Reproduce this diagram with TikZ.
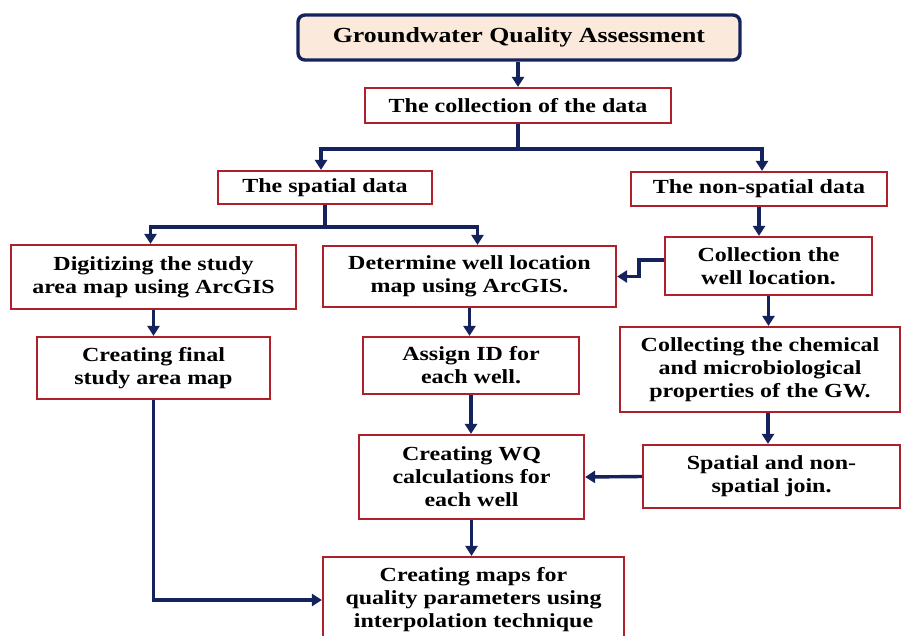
\documentclass[tikz,border=0pt]{standalone}
\usepackage{fontspec}
\setmainfont{Liberation Serif}[FakeStretch=1.2]
\usetikzlibrary{arrows.meta}
\definecolor{navy}{HTML}{15235C}
\definecolor{boxred}{HTML}{B0202A}
\definecolor{topfill}{HTML}{FBEADB}
\begin{document}
\begin{tikzpicture}[x=1pt,y=-1pt,
  box/.style={draw=boxred,line width=2.2pt,fill=white,align=center,inner sep=0pt,
    font=\fontsize{20}{23}\selectfont\bfseries},
  conn/.style={draw=navy,line width=3.4pt,-{Triangle[length=10pt,width=12pt]}},
  plain/.style={draw=navy,line width=3.4pt}]
\clip (0,0) rectangle (901,635);
\fill[white] (0,0) rectangle (901,635);

\node[box,draw=navy,line width=3.4pt,rounded corners=7pt,fill=topfill,
  minimum width=442pt,minimum height=45pt,font=\fontsize{21.5}{24}\selectfont\bfseries]
  (top) at (519,37.5) {Groundwater Quality Assessment};
\node[box,minimum width=306pt,minimum height=35pt] (coll) at (518,105.5) {The collection of the data};
\node[box,minimum width=214pt,minimum height=33pt] (spat) at (325,187.5) {The spatial data};
\node[box,minimum width=256pt,minimum height=34pt] (nons) at (759,189) {The non-spatial data};
\node[box,minimum width=285pt,minimum height=64pt] (digit) at (153.5,277) {Digitizing the study\\area map using ArcGIS};
\node[box,minimum width=293pt,minimum height=61pt] (determ) at (469.5,276.5) {Determine well location\\map using ArcGIS.};
\node[box,minimum width=207pt,minimum height=58pt] (cw) at (768.5,266) {Collection the\\well location.};
\node[box,minimum width=233pt,minimum height=62pt] (finalst) at (153.5,368) {Creating final\\study area map};
\node[box,minimum width=216pt,minimum height=57pt] (assign) at (471,365.5) {Assign ID for\\each well.};
\node[box,minimum width=280pt,minimum height=85pt] (chem) at (760,369.5) {Collecting the chemical\\and microbiological\\properties of the GW.};
\node[box,minimum width=225pt,minimum height=84pt] (wq) at (471.5,477) {Creating WQ\\calculations for\\each well};
\node[box,minimum width=257pt,minimum height=63pt] (join) at (771.5,476.5) {Spatial and non-\\spatial join.};
\node[box,minimum width=301pt,minimum height=86pt] (maps) at (473.5,600) {Creating maps for\\quality parameters using\\interpolation technique};

% connectors
\draw[conn] (coll.north |- top.south) -- (coll.north);
\path (coll.south) ++(0,25) coordinate (s1);
\draw[plain] (coll.south) -- (s1);
\draw[conn] (s1) -| ([xshift=-4pt]spat.north);
\draw[conn] (s1) -| ([xshift=3pt]nons.north);
\path (spat.south) ++(0,22) coordinate (s2);
\draw[plain] (spat.south) -- (s2);
\draw[conn] (s2) -| ([xshift=-3pt]digit.north);
\draw[conn] (s2) -| ([xshift=8pt]determ.north);
\draw[conn] (nons.south) -- (nons.south |- cw.north);
\draw[conn] ([yshift=6pt]cw.west) -- ++(-25,0) |- (determ.east);
\draw[conn] (cw.south) -- (cw.south |- chem.north);
\draw[conn] ([xshift=8pt]chem.south) -- ([xshift=8pt]chem.south |- join.north);
\draw[conn] (join.west) -- (wq.east);
\draw[conn] (digit.south) -- (finalst.north);
\draw[conn] (determ.south) -- (determ.south |- assign.north);
\draw[conn] (assign.south) -- (assign.south |- wq.north);
\draw[conn] (wq.south) -- (wq.south |- maps.north);
\draw[conn] (finalst.south) |- (maps.west);
\end{tikzpicture}
\end{document}
